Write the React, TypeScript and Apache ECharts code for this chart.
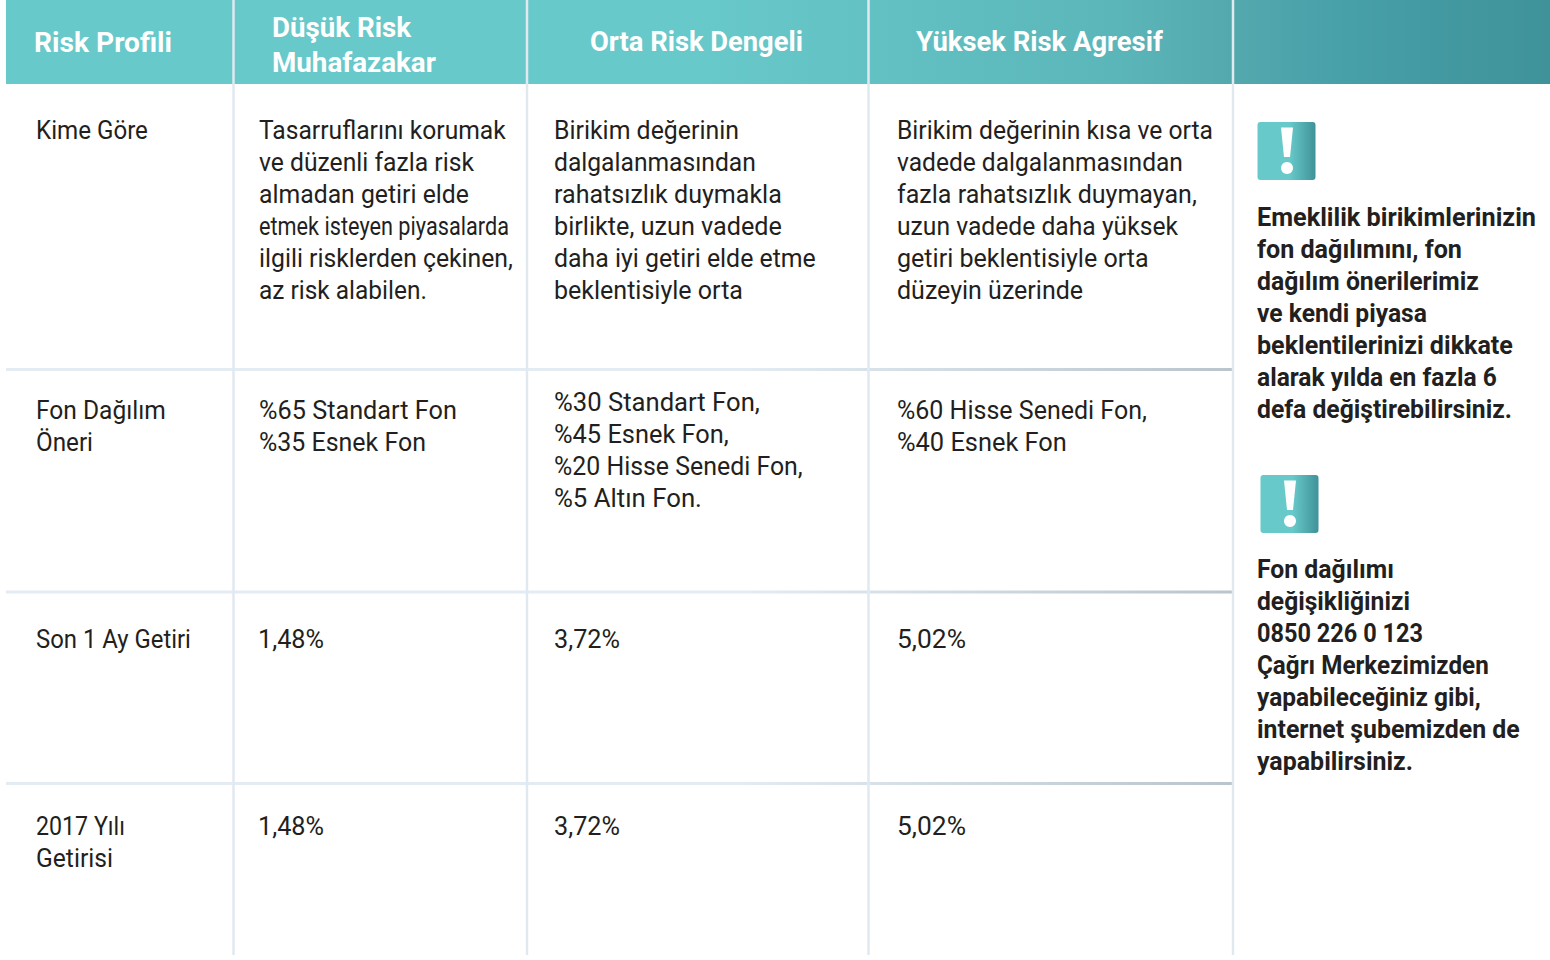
import React, { useEffect, useRef } from "react";
import * as echarts from "echarts";

const headers = [["Risk Profili"], ["Düşük Risk", "Muhafazakar"], ["Orta Risk Dengeli"], ["Yüksek Risk Agresif"]];
const rowLabels = [["Kime Göre"], ["Fon Dağılım", "Öneri"], ["Son 1 Ay Getiri"], ["2017 Yılı", "Getirisi"]];
const lowRisk = [
  ["Tasarruflarını korumak", "ve düzenli fazla risk", "almadan getiri elde", "etmek isteyen piyasalarda", "ilgili risklerden çekinen,", "az risk alabilen."],
  ["%65 Standart Fon", "%35 Esnek Fon"],
  ["1,48%"],
  ["1,48%"],
];
const midRisk = [
  ["Birikim değerinin", "dalgalanmasından", "rahatsızlık duymakla", "birlikte, uzun vadede", "daha iyi getiri elde etme", "beklentisiyle orta"],
  ["%30 Standart Fon,", "%45 Esnek Fon,", "%20 Hisse Senedi Fon,", "%5 Altın Fon."],
  ["3,72%"],
  ["3,72%"],
];
const highRisk = [
  ["Birikim değerinin kısa ve orta", "vadede dalgalanmasından", "fazla rahatsızlık duymayan,", "uzun vadede daha yüksek", "getiri beklentisiyle orta", "düzeyin üzerinde"],
  ["%60 Hisse Senedi Fon,", "%40 Esnek Fon"],
  ["5,02%"],
  ["5,02%"],
];
const noteOne = ["Emeklilik birikimlerinizin", "fon dağılımını, fon", "dağılım önerilerimiz", "ve kendi piyasa", "beklentilerinizi dikkate", "alarak yılda en fazla 6", "defa değiştirebilirsiniz."];
const noteTwo = ["Fon dağılımı", "değişikliğinizi", "0850 226 0 123", "Çağrı Merkezimizden", "yapabileceğiniz gibi,", "internet şubemizden de", "yapabilirsiniz."];

// Layout only: the drawn width of each line of text in the reference.
const lineWidths: Record<string, number> = {
  "Risk Profili": 138, "Düşük Risk": 139, "Muhafazakar": 164, "Orta Risk Dengeli": 213, "Yüksek Risk Agresif": 247,
  "Kime Göre": 112, "Fon Dağılım": 130, "Öneri": 57, "Son 1 Ay Getiri": 155, "2017 Yılı": 89, "Getirisi": 77,
  "Tasarruflarını korumak": 247, "ve düzenli fazla risk": 215, "almadan getiri elde": 210, "etmek isteyen piyasalarda": 250, "ilgili risklerden çekinen,": 254, "az risk alabilen.": 168,
  "Birikim değerinin": 185, "dalgalanmasından": 202, "rahatsızlık duymakla": 228, "birlikte, uzun vadede": 228, "daha iyi getiri elde etme": 262, "beklentisiyle orta": 189,
  "Birikim değerinin kısa ve orta": 316, "vadede dalgalanmasından": 286, "fazla rahatsızlık duymayan,": 300, "uzun vadede daha yüksek": 281, "getiri beklentisiyle orta": 252, "düzeyin üzerinde": 186,
  "%65 Standart Fon": 198, "%35 Esnek Fon": 167, "%30 Standart Fon,": 206, "%45 Esnek Fon,": 175, "%20 Hisse Senedi Fon,": 249, "%5 Altın Fon.": 148, "%60 Hisse Senedi Fon,": 250, "%40 Esnek Fon": 170,
  "1,48%": 66, "3,72%": 66, "5,02%": 69,
  "Emeklilik birikimlerinizin": 279, "fon dağılımını, fon": 205, "dağılım önerilerimiz": 222, "ve kendi piyasa": 170, "beklentilerinizi dikkate": 256, "alarak yılda en fazla 6": 240, "defa değiştirebilirsiniz.": 255,
  "Fon dağılımı": 137, "değişikliğinizi": 153, "0850 226 0 123": 166, "Çağrı Merkezimizden": 232, "yapabileceğiniz gibi,": 224, "internet şubemizden de": 263, "yapabilirsiniz.": 156,
};

const FONT = "Roboto";
const INK = "#231F20";

const ctx = document.createElement("canvas").getContext("2d")!;
function fit(s: string, size: number, weight: number) {
  ctx.font = `${weight} ${size}px ${FONT}`;
  const w = ctx.measureText(s).width;
  return lineWidths[s] && w ? lineWidths[s] / w : 1;
}

function block(lines: string[], x: number, y: number, size: number, weight: number, fill: string, lead = 32) {
  return lines.map((s, i) => ({
    type: "text", x, y: y + i * lead, scaleX: fit(s, size, weight), silent: true,
    style: { text: s, x: 0, y: 0, fill, fontFamily: FONT, fontSize: size, fontWeight: weight, textAlign: "left" },
  }));
}

export default function App() {
  const ref = useRef<HTMLDivElement>(null);
  useEffect(() => {
    const chart = echarts.init(ref.current!, undefined, { renderer: "svg" });
    const G = echarts.graphic as any;
    const headFill = new G.LinearGradient(0, 0, 1, 0, [
      { offset: 0, color: "#68C9CA" }, { offset: 0.45, color: "#68C9CA" }, { offset: 0.72, color: "#5BB6B9" },
      { offset: 0.79, color: "#54A9AE" }, { offset: 0.87, color: "#479FA8" }, { offset: 1, color: "#3F9299" },
    ]);
    const iconFill = new G.LinearGradient(0, 0, 1, 0, [
      { offset: 0, color: "#68C9CA" }, { offset: 0.55, color: "#68C9CA" }, { offset: 1, color: "#3F9299" },
    ]);
    const ruleFill = new G.LinearGradient(0, 0, 1, 0, [
      { offset: 0, color: "#E3ECF3" }, { offset: 0.6, color: "#E3ECF3" }, { offset: 1, color: "#B9C4CC" },
    ]);
    const icon = (dx: number, dy: number) => [
      { type: "rect", shape: { x: 1257.5 + dx, y: 122 + dy, width: 58, height: 58, r: 3 }, style: { fill: iconFill } },
      { type: "polygon", shape: { points: [[1281 + dx, 127.5 + dy], [1293 + dx, 127.5 + dy], [1290 + dx, 157 + dy], [1284 + dx, 157 + dy]] }, style: { fill: "#fff" } },
      { type: "circle", shape: { cx: 1287 + dx, cy: 168 + dy, r: 6 }, style: { fill: "#fff" } },
    ];
    const colX = [259, 554, 897];
    const rowY = [118, 398, 627, 814];
    const cols = [lowRisk, midRisk, highRisk];
    const els: any[] = [
      { type: "rect", shape: { x: 6, y: 0, width: 1544, height: 84 }, style: { fill: headFill } },
      ...[369.5, 592, 783.5].map((y) => ({ type: "rect", shape: { x: 6, y: y - 1.5, width: 1227, height: 3 }, style: { fill: ruleFill } })),
      ...[233.5, 527, 868.5, 1233].map((x) => ({ type: "rect", shape: { x: x - 1.25, y: 0, width: 2.5, height: 955 }, style: { fill: "#E1E9F0" } })),
      ...block(headers[0], 34, 29, 27, 700, "#fff"),
      ...block(headers[1], 272, 15, 27, 700, "#fff", 35),
      ...block(headers[2], 590, 29, 27, 700, "#fff"),
      ...block(headers[3], 916, 29, 27, 700, "#fff"),
      ...rowLabels.flatMap((l, i) => block(l, 36, rowY[i], 25, 400, INK)),
      ...cols.flatMap((c, j) => c.flatMap((l, i) => {
        const y = j === 1 && i === 1 ? 390 : rowY[i];
        const x = j === 0 && i >= 2 ? colX[j] - 1 : colX[j];
        return block(l, x, y, 25, 400, INK);
      })),
      ...icon(0, 0),
      ...icon(3, 353),
      ...block(noteOne, 1257, 205, 25, 700, INK),
      ...block(noteTwo, 1257, 557, 25, 700, INK),
    ];
    chart.setOption({ animation: false, graphic: { elements: els } });
    return () => chart.dispose();
  }, []);
  return <div ref={ref} style={{ position: "fixed", left: 0, top: 0, width: 1550, height: 960, background: "#fff" }} />;
}
